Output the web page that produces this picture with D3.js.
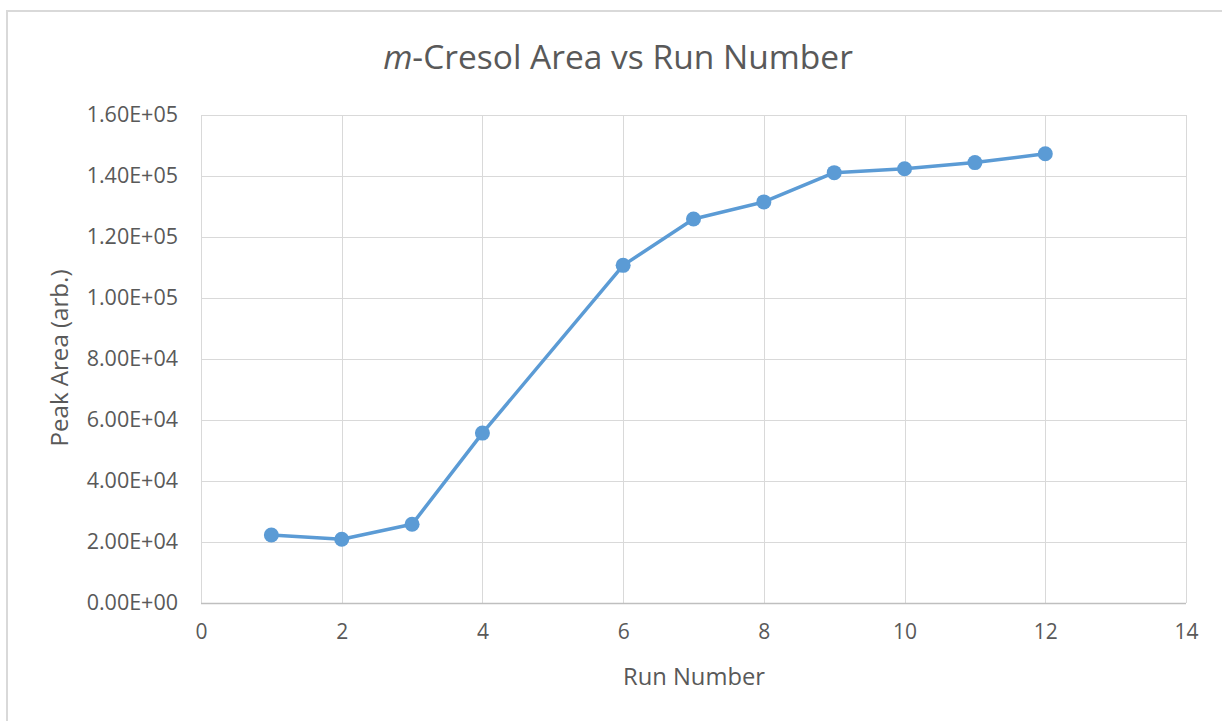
<!DOCTYPE html>
<html>
<head>
<meta charset="utf-8">
<script src="https://cdn.jsdelivr.net/npm/d3@7"></script>
<style>
  html, body { margin: 0; padding: 0; background: #fff; }
  svg { display: block; }
  text { font-family: "Open Sans", "Noto Sans", sans-serif; fill: #595959; }
</style>
</head>
<body>
<svg id="chart" width="1222" height="721"></svg>
<script>
// Run numbers (run 5 has no measurement)
const runs = [1, 2, 3, 4, 6, 7, 8, 9, 10, 11, 12];
// Peak area (arbitrary units) for each run
const peakArea = [22300, 20900, 25800, 55700, 110700, 125900, 131500, 141100, 142400, 144400, 147300];
const xTicks = [0, 2, 4, 6, 8, 10, 12, 14];
const yTicks = [0, 20000, 40000, 60000, 80000, 100000, 120000, 140000, 160000];
const titleItalic = "m";
const titleRest = "-Cresol Area vs Run Number";
const xTitle = "Run Number";
const yTitle = "Peak Area (arb.)";

const svg = d3.select("#chart");
const W = 1222, H = 721;
const plot = { left: 201, top: 115, right: 1186, bottom: 603 };

// Shrink/grow a text node's font so it spans the requested width
function fitWidth(sel, target) {
  const node = sel.node();
  const fs = parseFloat(sel.attr("font-size"));
  const w = node.getComputedTextLength();
  sel.attr("font-size", (fs * target / w).toFixed(2));
}

// Chart frame
svg.append("rect")
  .attr("x", 7).attr("y", 11)
  .attr("width", W + 10).attr("height", H + 10)
  .attr("fill", "#fff").attr("stroke", "#d9d9d9").attr("stroke-width", 2);

const x = d3.scaleLinear().domain([0, 14]).range([plot.left, plot.right]);
const y = d3.scaleLinear().domain([0, 160000]).range([plot.bottom, plot.top]);

// Gridlines
const grid = svg.append("g");
grid.selectAll("line.h").data(yTicks).join("line")
  .attr("x1", plot.left).attr("x2", plot.right)
  .attr("y1", d => Math.round(y(d)) + 0.5).attr("y2", d => Math.round(y(d)) + 0.5)
  .attr("stroke", "#d9d9d9").attr("stroke-width", 1);
grid.selectAll("line.v").data(xTicks).join("line")
  .attr("y1", plot.top).attr("y2", plot.bottom)
  .attr("x1", d => Math.round(x(d)) + 0.5).attr("x2", d => Math.round(x(d)) + 0.5)
  .attr("stroke", "#d9d9d9").attr("stroke-width", 1);

// Horizontal axis line
svg.append("line")
  .attr("x1", plot.left).attr("x2", plot.right)
  .attr("y1", plot.bottom + 0.5).attr("y2", plot.bottom + 0.5)
  .attr("stroke", "#bfbfbf").attr("stroke-width", 1.5);

// Axis tick labels
const fmtY = d => {
  if (d === 0) return "0.00E+00";
  const e = Math.floor(Math.log10(d));
  const m = d / Math.pow(10, e);
  return m.toFixed(2) + "E+" + String(e).padStart(2, "0");
};

const yAxis = d3.axisLeft(y).tickValues(yTicks).tickFormat(fmtY).tickSize(0).tickPadding(23);
const gy = svg.append("g").attr("transform", `translate(${plot.left},0)`).call(yAxis);
gy.select(".domain").remove();
gy.selectAll("text").attr("font-size", 21.5).attr("fill", "#595959")
  .style("font-family", '"Open Sans", sans-serif');

const xAxis = d3.axisBottom(x).tickValues(xTicks).tickFormat(d3.format("d")).tickSize(0).tickPadding(21);
const gx = svg.append("g").attr("transform", `translate(0,${plot.bottom})`).call(xAxis);
gx.select(".domain").remove();
gx.selectAll("text").attr("font-size", 21).attr("fill", "#595959")
  .style("font-family", '"Open Sans", sans-serif');

// Series line and markers
const line = d3.line().x((d, i) => x(runs[i])).y(d => y(d));
svg.append("path").datum(peakArea)
  .attr("d", line)
  .attr("fill", "none").attr("stroke", "#5b9bd5")
  .attr("stroke-width", 3.5).attr("stroke-linejoin", "round").attr("stroke-linecap", "round");
svg.append("g").selectAll("circle").data(peakArea).join("circle")
  .attr("cx", (d, i) => x(runs[i])).attr("cy", d => y(d))
  .attr("r", 7.5).attr("fill", "#5b9bd5");

// Title
const title = svg.append("text")
  .attr("x", 618).attr("y", 69).attr("text-anchor", "middle").attr("font-size", 30);
title.append("tspan").attr("font-style", "italic").text(titleItalic);
title.append("tspan").text(titleRest);
fitWidth(title, 470);

// Axis titles
const xt = svg.append("text")
  .attr("x", 694).attr("y", 685).attr("text-anchor", "middle").attr("font-size", 20)
  .text(xTitle);
fitWidth(xt, 142);

const yt = svg.append("text")
  .attr("transform", "translate(68,358) rotate(-90)")
  .attr("text-anchor", "middle").attr("font-size", 20)
  .text(yTitle);
fitWidth(yt, 177);
</script>
</body>
</html>
